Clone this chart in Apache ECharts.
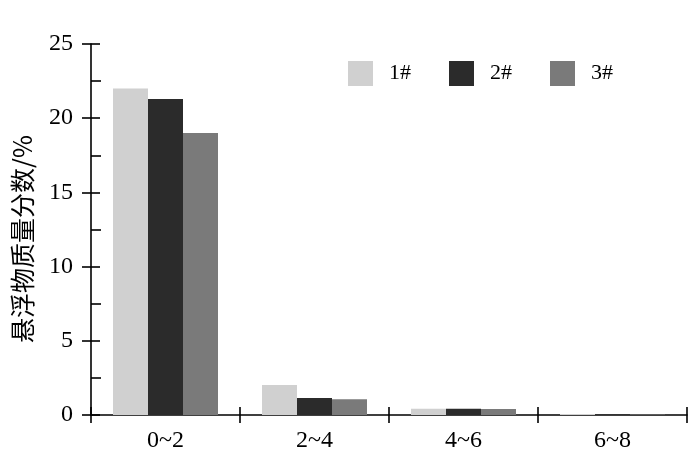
<!DOCTYPE html>
<html><head><meta charset="utf-8">
<script src="https://cdn.jsdelivr.net/npm/echarts@6/dist/echarts.min.js"></script>
<style>html,body{margin:0;padding:0;background:#fff}#c{width:700px;height:472px}</style>
</head><body><div id="c"></div>
<script>
const categories = ['0~2', '2~4', '4~6', '6~8'];
const seriesNames = ['1#', '2#', '3#'];
const s1 = [22.0, 2.02, 0.42, 0.06];
const s2 = [21.3, 1.15, 0.42, 0.03];
const s3 = [19.0, 1.06, 0.40, 0.03];
const yTicks = [0, 5, 10, 15, 20, 25];
const yName = '悬浮物质量分数/%';

const colors = ['#d0d0d0', '#2b2b2b', '#7a7a7a'];
const serif = '"Liberation Serif","Times New Roman",serif';
const chart = echarts.init(document.getElementById('c'));
const lineStyle = {color: '#000', width: 1.6};
chart.setOption({
  animation: false,
  grid: {left: 91, right: 13, top: 44, bottom: 57},
  legend: {
    top: 61, left: 348, padding: 0,
    itemWidth: 25, itemHeight: 25, itemGap: 38,
    icon: 'rect',
    data: seriesNames,
    textStyle: {fontFamily: serif, fontSize: 22, color: '#000', padding: [5, 0, 0, 11]}
  },
  xAxis: [{
    type: 'category', data: categories,
    axisLine: {lineStyle: lineStyle},
    axisTick: {show: true, length: 8, lineStyle: lineStyle},
    axisLabel: {fontFamily: serif, fontSize: 24, color: '#000', margin: 14}
  }, {
    type: 'category', data: categories, position: 'bottom',
    axisLine: {show: false},
    axisTick: {show: true, inside: true, length: 8, lineStyle: lineStyle},
    axisLabel: {show: false}
  }],
  yAxis: [{
    type: 'value', min: yTicks[0], max: yTicks[yTicks.length - 1], interval: 5,
    splitLine: {show: false},
    axisLine: {show: true, lineStyle: lineStyle},
    axisTick: {show: true, length: 9, lineStyle: lineStyle},
    axisLabel: {fontFamily: serif, fontSize: 24, color: '#000', margin: 18}
  }, {
    type: 'value', position: 'left', min: yTicks[0], max: yTicks[yTicks.length - 1], interval: 5,
    splitLine: {show: false},
    axisLine: {show: false},
    axisTick: {show: true, inside: true, length: 9, lineStyle: lineStyle},
    minorTick: {show: true, splitNumber: 2, length: 10, lineStyle: {color: '#000', width: 1.6}},
    axisLabel: {show: false}
  }],
  graphic: [{
    type: 'text', x: 22, y: 239, rotation: Math.PI / 2,
    style: {text: yName, fontSize: 25, fontFamily: '"Noto Sans CJK SC", sans-serif', fill: '#000',
            align: 'center', verticalAlign: 'middle'}
  }],
  series: [s1, s2, s3].map((d, i) => ({
    name: seriesNames[i], type: 'bar', data: d,
    barWidth: 35, barGap: '0%',
    itemStyle: {color: colors[i]}
  }))
});
</script></body></html>
